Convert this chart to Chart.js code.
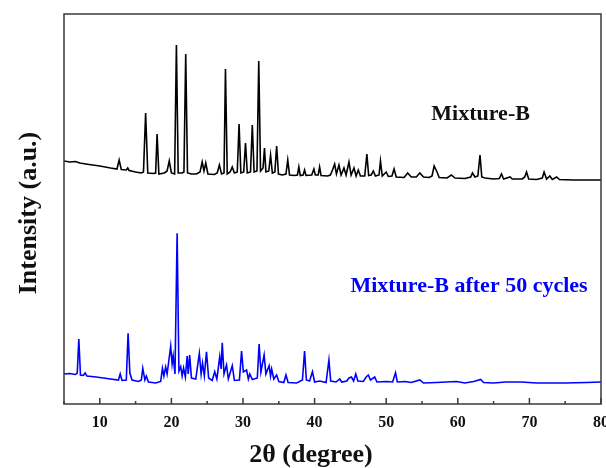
<!DOCTYPE html>
<html>
<head>
<meta charset="utf-8">
<script src="https://cdn.jsdelivr.net/npm/chart.js@4.4.0/dist/chart.umd.min.js"></script>
<style>
    body { margin: 0; background: #fff; }
    #xrd { display: block; }
</style>
</head>
<body>
<canvas id="xrd" width="606" height="468"></canvas>
<script>
// 2theta / intensity pairs
var mixtureB = [
    [5.0,243],[5.8,242],[6.6,242.5],[7.2,241],[8.5,239.5],[10,238],[11.5,236],[12.4,235],[12.7,244],[13.0,234.5],
    [13.7,234],[13.9,236],[14.1,233.5],[15.0,232],[15.8,231],[16.1,232],[16.4,291],[16.7,231],[17.5,230.5],[17.8,231],
    [18.0,270],[18.25,230],[19.0,231],[19.4,233],[19.7,243],[20.0,231],[20.45,230],[20.7,359],[20.95,231],[21.5,231],
    [21.75,232],[22.0,350],[22.25,231],[22.8,230],[23.5,230],[24.0,232],[24.3,242],[24.55,233],[24.8,241],[25.1,230],
    [26.0,229.5],[26.4,231],[26.7,239],[27.0,230],[27.35,231],[27.55,335],[27.8,230],[28.2,232],[28.5,237],[28.8,231],
    [29.2,232],[29.45,280],[29.7,231],[30.1,232],[30.35,261],[30.6,231],[31.05,232],[31.3,279],[31.55,232],[31.95,233],
    [32.2,343],[32.45,233],[32.8,236],[33.0,256],[33.2,232],[33.6,233],[33.85,249],[34.1,231],[34.45,232],[34.7,258],
    [34.95,230],[35.5,229],[36.0,230],[36.25,244],[36.5,229],[37.2,228.5],[37.6,229],[37.8,237],[38.0,228.5],[38.4,229],
    [38.6,234],[38.8,228.5],[39.6,229],[39.9,235],[40.1,229],[40.5,229],[40.7,237],[40.9,228.5],[41.8,228],[42.2,229],
    [42.5,234],[42.8,240],[43.05,230],[43.4,239],[43.7,229],[44.1,236],[44.4,229],[44.8,242],[45.1,229],[45.5,236],
    [45.8,228],[46.1,234],[46.4,228],[47.0,228],[47.3,250],[47.55,228.5],[47.9,229],[48.2,233],[48.5,228],[49.0,229],
    [49.2,243],[49.45,228],[50.0,232],[50.3,227.5],[50.8,228],[51.1,235],[51.4,227],[52.5,226.5],[53.0,231],[53.5,227],
    [54.2,227],[54.7,231],[55.2,227],[56.0,226.5],[56.4,228],[56.7,238],[57.1,232],[57.4,226.5],[58.5,226],[59.1,229],
    [59.6,226],[61.0,225.5],[61.8,227],[62.05,231],[62.4,227],[62.8,228],[63.1,249],[63.35,227],[63.8,226],[65.0,225],
    [65.8,225.5],[66.1,230],[66.4,225],[67.3,227],[67.6,225],[69.0,225],[69.35,227],[69.6,232],[69.9,225],[71.0,224.5],
    [71.8,226],[72.05,232],[72.4,225],[72.85,228],[73.2,224.5],[73.8,227],[74.2,224.5],[76,224],[78,224],[80,224]
];

var after50 = [
    [5.0,30],[5.8,30.5],[6.6,29.5],[6.85,31],[7.07,65],[7.3,29],[7.7,28.5],[7.95,31],[8.2,28],[9.5,27],
    [11,25.5],[12.6,24],[12.85,30],[13.1,23.5],[13.7,24],[13.95,70.7],[14.2,31],[14.5,24],[15.4,22.5],[15.8,24],
    [16.0,35.7],[16.3,24],[16.5,28],[16.8,22],[17.8,21],[18.5,22.5],[18.75,35.7],[18.95,28],[19.2,37],[19.4,30],
    [19.6,41],[19.9,58],[20.1,40],[20.25,48],[20.5,30],[20.8,170.7],[21.05,33],[21.3,37.3],[21.5,28],[21.7,36],
    [21.95,27],[22.2,48],[22.35,30],[22.55,49],[22.8,26],[23.4,25],[23.9,50.7],[24.15,30],[24.35,41],[24.6,28],
    [24.9,52.3],[25.2,26],[25.7,23.5],[26.05,32.3],[26.35,25],[26.75,47.3],[26.95,35],[27.1,61.3],[27.35,30],[27.7,39],
    [27.95,25],[28.5,38.3],[28.8,23.5],[29.5,24],[29.8,53],[30.05,32],[30.5,34],[30.75,25],[30.95,30],[31.3,24.5],
    [32.0,26],[32.25,60],[32.5,32],[32.95,49],[33.2,30],[33.65,38.3],[33.85,28],[34.0,35],[34.3,25],[34.7,29],
    [35.0,22.5],[35.7,21.5],[36.0,29],[36.3,21.5],[37.5,21],[38.3,24],[38.6,53],[38.85,24],[39.3,23],[39.7,32.3],
    [40.0,22],[40.7,23],[41.6,21.5],[42.0,44],[42.25,23],[43.0,22],[43.5,25],[43.8,22],[44.5,23],[44.8,26],
    [45.15,27],[45.45,23],[45.75,30],[46.05,23],[46.8,22.5],[47.2,27],[47.5,29],[47.8,24],[48.4,27],[48.7,22],
    [50.0,22.5],[50.9,22],[51.3,31.3],[51.55,22],[52.6,22.5],[53.5,21.5],[54.7,24],[55.2,21],[57,21.5],[59.8,22.5],
    [61,21],[62.2,22.5],[63.2,24.5],[63.6,21.5],[65,21],[66.7,22],[68.9,22],[71,21],[75,21],[78,21.5],[80,22]
];

var seriesNames = ['Mixture-B', 'Mixture-B after 50 cycles'];
var xTicks = [10, 20, 30, 40, 50, 60, 70, 80];

var serif = "'Liberation Serif', 'Times New Roman', serif";

function toPoints(arr){
    return arr.map(function(p){ return {x: p[0], y: p[1]}; });
}

// frame, inward ticks, series labels and axis titles
var decor = {
    id: 'decor',
    afterDraw: function(chart){
        var ctx = chart.ctx, a = chart.chartArea, xs = chart.scales.x, ys = chart.scales.y;
        ctx.save();
        ctx.strokeStyle = '#3a3a3a';
        ctx.lineWidth = 1.5;
        ctx.strokeRect(a.left, a.top, a.right - a.left, a.bottom - a.top);

        xs.ticks.forEach(function(t){
            var px = xs.getPixelForValue(t.value);
            var len = (t.value % 10 === 0) ? 6 : 3;
            ctx.beginPath();
            ctx.moveTo(px, a.bottom);
            ctx.lineTo(px, a.bottom - len);
            ctx.stroke();
        });

        ctx.font = 'bold 22px ' + serif;
        ctx.textAlign = 'left';
        ctx.textBaseline = 'alphabetic';
        ctx.fillStyle = '#111';
        ctx.fillText(seriesNames[0], xs.getPixelForValue(56.3), ys.getPixelForValue(284));
        ctx.fillStyle = '#0000ff';
        ctx.fillText(seriesNames[1], xs.getPixelForValue(45.0), ys.getPixelForValue(112.5));

        ctx.fillStyle = '#111';
        ctx.font = 'bold 26px ' + serif;
        ctx.textAlign = 'center';
        ctx.fillText('2\u03b8 (degree)', 311, 462);

        ctx.translate(36, 213);
        ctx.rotate(-Math.PI / 2);
        ctx.fillText('Intensity (a.u.)', 0, 0);
        ctx.restore();
    }
};

var chart = new Chart(document.getElementById('xrd').getContext('2d'), {
    type: 'line',
    data: {
        datasets: [{
            label: seriesNames[0],
            data: toPoints(mixtureB),
            borderColor: '#000',
            borderWidth: 1.6,
            pointRadius: 0,
            tension: 0
        }, {
            label: seriesNames[1],
            data: toPoints(after50),
            borderColor: '#0000ff',
            borderWidth: 1.6,
            pointRadius: 0,
            tension: 0
        }]
    },
    options: {
        responsive: false,
        animation: false,
        devicePixelRatio: 1,
        layout: { padding: { top: 14, right: 5, left: 0, bottom: 0 } },
        plugins: {
            legend: { display: false },
            tooltip: { enabled: false }
        },
        scales: {
            x: {
                type: 'linear',
                min: 5,
                max: 80,
                grid: { display: false, drawTicks: false },
                border: { display: false },
                ticks: {
                    stepSize: 5,
                    autoSkip: false,
                    maxRotation: 0,
                    padding: 9,
                    color: '#111',
                    font: { family: serif, weight: 'bold', size: 16 },
                    callback: function(v){ return xTicks.indexOf(v) >= 0 ? v : ''; }
                },
                afterFit: function(s){ s.height = 64; s.paddingLeft = 0; s.paddingRight = 0; }
            },
            y: {
                min: 0,
                max: 390,
                grid: { display: false, drawTicks: false },
                border: { display: false },
                ticks: { display: false },
                afterFit: function(s){ s.width = 64; }
            }
        }
    },
    plugins: [decor]
});
</script>
</body>
</html>
